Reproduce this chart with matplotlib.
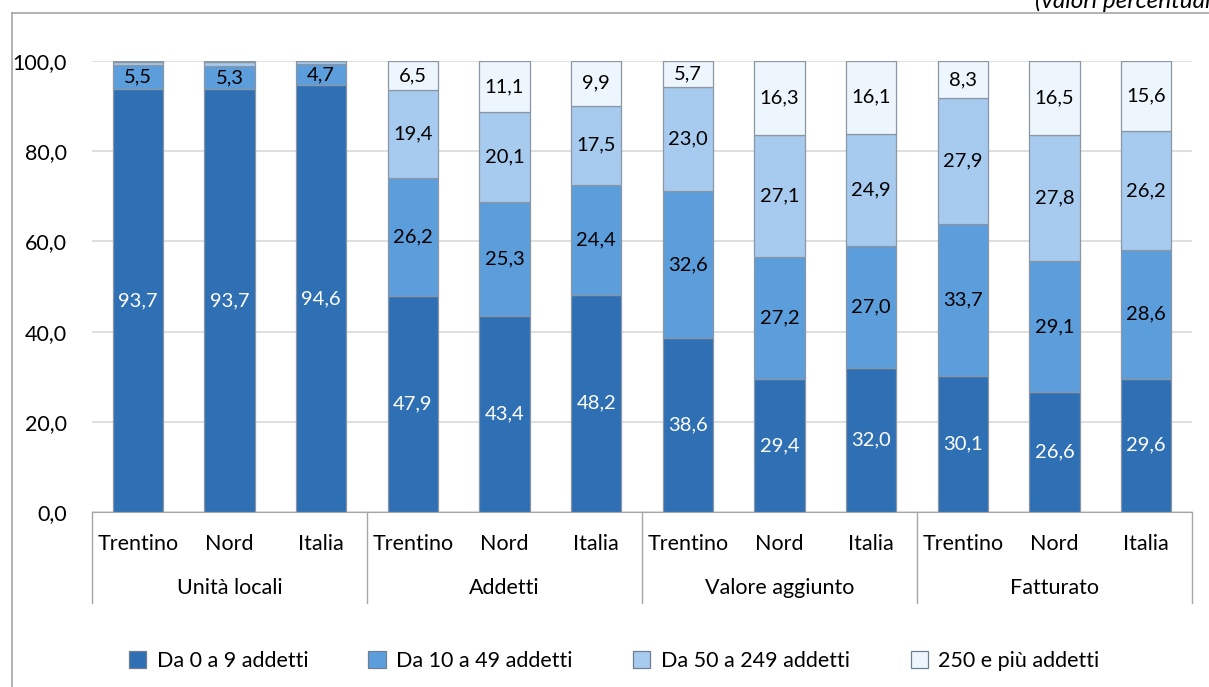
import numpy as np
import matplotlib
matplotlib.use("Agg")
from matplotlib import pyplot as plt
from matplotlib.patches import Patch
from matplotlib.lines import Line2D

plt.rcParams['font.family'] = ['Lato', 'DejaVu Sans']

#Data

places = ["Trentino", "Nord", "Italia"] * 4
groups = ["Unità locali", "Addetti", "Valore aggiunto", "Fatturato"]
series_names = ["Da 0 a 9 addetti", "Da 10 a 49 addetti",
                "Da 50 a 249 addetti", "250 e più addetti"]

da_0_9 = [93.7, 93.7, 94.6, 47.9, 43.4, 48.2, 38.6, 29.4, 32.0, 30.1, 26.6, 29.6]
da_10_49 = [5.5, 5.3, 4.7, 26.2, 25.3, 24.4, 32.6, 27.2, 27.0, 33.7, 29.1, 28.6]
da_50_249 = [0.6, 0.8, 0.6, 19.4, 20.1, 17.5, 23.0, 27.1, 24.9, 27.9, 27.8, 26.2]
oltre_250 = [0.2, 0.2, 0.1, 6.5, 11.1, 9.9, 5.7, 16.3, 16.1, 8.3, 16.5, 15.6]

series = [da_0_9, da_10_49, da_50_249, oltre_250]
colors = ["#2F6FB4", "#5C9DDB", "#A7CBEF", "#EEF6FD"]
text_colors = ["white", "black", "black", "black"]

#Figure

W, H = 1209, 687
fig = plt.figure(figsize=(W / 100, H / 100), dpi=100)
ax = fig.add_axes([92 / W, 1 - 512 / H, (1192 - 92) / W, (512 - 61) / H])

x = np.arange(len(places))
bottom = np.zeros(len(places))
for vals, col, tcol in zip(series, colors, text_colors):
    vals = np.array(vals)
    ax.bar(x, vals, width=0.55, bottom=bottom, color=col,
           edgecolor="#8A96A3", linewidth=0.9, zorder=3)
    for xi, b, v in zip(x, bottom, vals):
        if v >= 2:
            ax.text(xi, b + v / 2, f"{v:.1f}".replace(".", ","),
                    ha="center", va="center", fontsize=14.5, color=tcol, zorder=4)
    bottom += vals

ax.set_ylim(0, 100)
ax.set_xlim(-0.5, len(places) - 0.5)
ax.set_yticks(np.arange(0, 101, 20))
ax.set_yticklabels([f"{v:.1f}".replace(".", ",") for v in np.arange(0, 101, 20)],
                   fontsize=15.5)
ax.tick_params(axis="y", length=0, pad=18)
ax.tick_params(axis="x", length=0, pad=16)
ax.set_xticks(x)
ax.set_xticklabels(places, fontsize=15.5)
ax.grid(axis="y", color="#D9D9D9", linewidth=1.2, zorder=0)
for s in ["top", "right", "left"]:
    ax.spines[s].set_visible(False)
ax.spines["bottom"].set_color("#A6A6A6")

# group separators and labels
trans = ax.get_xaxis_transform()
sep_bottom = -(603 - 512) / (512 - 61)
for i in range(5):
    xs = i * 3 - 0.5
    ax.add_line(Line2D([xs, xs], [0, sep_bottom], transform=trans,
                       color="#A6A6A6", linewidth=1, clip_on=False))
for i, g in enumerate(groups):
    ax.text(i * 3 + 1, -(588 - 512) / (512 - 61), g, transform=trans,
            ha="center", va="center", fontsize=15.5)

# outer frame
fig.add_artist(Line2D([12 / W, 12 / W], [0, 1 - 13 / H], transform=fig.transFigure,
                      color="#A6A6A6", linewidth=1.2))
fig.add_artist(Line2D([12 / W, 1], [1 - 13 / H, 1 - 13 / H], transform=fig.transFigure,
                      color="#A6A6A6", linewidth=1.2))
fig.text(1035 / W, 1 - 8 / H, "(valori percentuali)", style="italic",
         fontsize=17.5, ha="left", va="baseline")

# legend
handles = [Patch(facecolor=c, edgecolor="#6E7F90", linewidth=0.9) for c in colors]
fig.legend(handles, series_names, loc="center", bbox_to_anchor=(0.508, 1 - 661 / H),
           ncol=4, frameon=False, fontsize=15.5, handlelength=0.8, handleheight=0.8,
           handletextpad=0.5, columnspacing=2.8)

fig.savefig("out.png", dpi=100)
